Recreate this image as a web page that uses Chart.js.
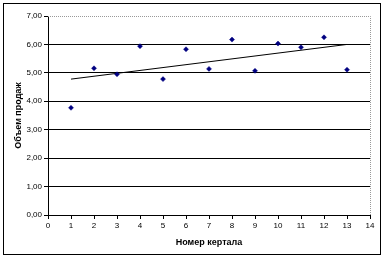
<!DOCTYPE html>
<html>
<head>
<meta charset="utf-8">
<script src="https://cdn.jsdelivr.net/npm/chart.js@4/dist/chart.umd.min.js"></script>
<style>
html,body{margin:0;padding:0;background:#fff;}
canvas{display:block;}
</style>
</head>
<body>
<canvas id="c" width="386" height="259"></canvas>
<script>
const quarters = [1,2,3,4,5,6,7,8,9,10,11,12,13];
const sales = [3.77,5.16,4.95,5.94,4.78,5.83,5.14,6.17,5.07,6.03,5.90,6.25,5.11];
const trendX = [1,13];
const trendY = [4.78,6.00];
const yTitle = 'Объем продаж';
const xTitle = 'Номер кертала';

const frame = {
  id:'frame',
  beforeDraw(chart){
    const ctx=chart.ctx;
    ctx.save();
    ctx.fillStyle='#fff';
    ctx.fillRect(0,0,chart.width,chart.height);
    ctx.strokeStyle='#000';
    ctx.lineWidth=1;
    ctx.strokeRect(3.5,3.5,377,251);
    ctx.restore();
  },
  beforeDatasetsDraw(chart){
    const a=chart.chartArea, ctx=chart.ctx;
    ctx.save();
    ctx.strokeStyle='#999';
    ctx.lineWidth=1;
    ctx.setLineDash([1,1]);
    ctx.beginPath();
    ctx.moveTo(a.left, Math.round(a.top)+0.5);
    ctx.lineTo(Math.round(a.right)+0.5, Math.round(a.top)+0.5);
    ctx.lineTo(Math.round(a.right)+0.5, a.bottom);
    ctx.stroke();
    ctx.restore();
  }
};

const font = {family:'"Liberation Sans", Arial, sans-serif', size:8};
new Chart(document.getElementById('c'), {
  type:'scatter',
  data:{
    datasets:[
      {
        data: quarters.map((q,i)=>({x:q,y:sales[i]})),
        pointStyle:'rectRot',
        pointRadius:2.5,
        pointBackgroundColor:'#000080',
        pointBorderColor:'#000080',
        pointBorderWidth:0.5,
        showLine:false
      },
      {
        type:'line',
        data: trendX.map((q,i)=>({x:q,y:trendY[i]})),
        borderColor:'#000',
        borderWidth:1,
        pointRadius:0,
        fill:false
      }
    ]
  },
  options:{
    responsive:false,
    animation:false,
    devicePixelRatio:1,
    layout:{padding:{left:0,top:16,right:16,bottom:0}},
    plugins:{legend:{display:false},tooltip:{enabled:false}},
    scales:{
      x:{
        type:'linear',min:0,max:14,
        afterFit(s){s.height=44;},
        ticks:{stepSize:1,color:'#000',font:font,padding:2,maxRotation:0},
        grid:{drawOnChartArea:false,drawTicks:true,tickLength:4,tickColor:'#000'},
        border:{color:'#000',width:1},
        title:{display:true,text:xTitle,color:'#000',font:{family:font.family,size:9,weight:'bold'},padding:{top:2,bottom:11}}
      },
      y:{
        min:0,max:7,
        afterFit(s){s.width=48;},
        ticks:{stepSize:1,color:'#000',font:font,padding:2,callback:v=>v.toFixed(2).replace('.',',')},
        grid:{color:c=>c.tick&&c.tick.value===7?'rgba(0,0,0,0)':'#000',tickLength:4,tickColor:'#000',lineWidth:1},
        border:{color:'#000',width:1},
        title:{display:true,text:yTitle,color:'#000',font:{family:font.family,size:9,weight:'bold'},padding:{top:13,bottom:0}}
      }
    }
  },
  plugins:[frame]
});
</script>
</body>
</html>
